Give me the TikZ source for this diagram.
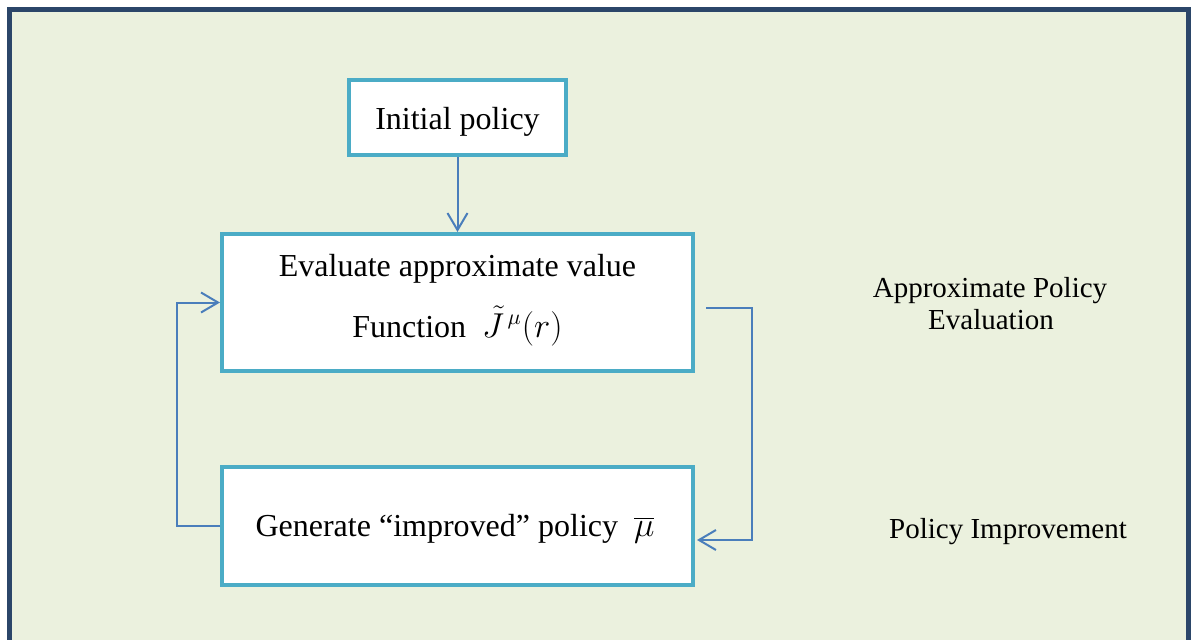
\documentclass[tikz,border=0pt]{standalone}
\usepackage{fontspec}
\setmainfont{Liberation Serif}
\usetikzlibrary{arrows.meta}
\definecolor{panel}{HTML}{EBF1DE}
\definecolor{framecol}{HTML}{2B4669}
\definecolor{boxline}{HTML}{4BACC6}
\definecolor{flow}{HTML}{4A7EBB}

\begin{document}
\begin{tikzpicture}[x=0.5pt,y=-0.5pt,
  stepbox/.style={draw=boxline, line width=2pt, fill=white, inner sep=0pt},
  boxtext/.style={font=\fontsize{16}{31}\selectfont, inner sep=0pt, anchor=base},
  sidetext/.style={font=\fontsize{14.5}{16.5}\selectfont, inner sep=0pt, anchor=base},
  flowline/.style={draw=flow, line width=1pt, -{Straight Barb[length=8.5pt,width=10pt,line width=1pt]}}]
\useasboundingbox (0,0) rectangle (1191,639);
\fill[white] (0,0) rectangle (1191,639);
% panel with dark frame
\draw[framecol, line width=2.5pt, fill=panel] (9.5,9.5) rectangle (1188.5,660);

% boxes
\node[stepbox, minimum width=108.5pt, minimum height=37.5pt] (init) at (457.5,117.5) {};
\node[stepbox, minimum width=235.5pt, minimum height=68.5pt] (eval) at (457.5,302.5) {};
\node[stepbox, minimum width=235.5pt, minimum height=59pt] (gen) at (457.5,526) {};

% box texts
\node[boxtext] (initT) at (457.5,129) {Initial policy};
\node[boxtext] (evalA) at (457.5,276) {Evaluate approximate value};
\node[boxtext] (evalB) at (457.5,337) {Function \ $\tilde{J}^{\,\mu}(r)$};
\node[boxtext] (genT) at (455,536) {Generate ``improved'' policy \ $\overline{\mu}$};

% side labels
\node[sidetext] (apeA) at (990,297) {Approximate Policy};
\node[sidetext] (apeB) at (991,329) {Evaluation};
\node[sidetext] (pi) at (1008,538) {Policy Improvement};

% connectors
\coordinate (turnR) at (752,400);
\coordinate (turnL) at (177,400);
\coordinate (outR) at ([xshift=5.5pt,yshift=-2.75pt]eval.east);
\coordinate (inR) at ([xshift=1pt,yshift=-7pt]gen.east);
\draw[flowline] (init.south) -- (eval.north);
\draw[flowline] (outR) -- (outR -| turnR) -- (turnR |- inR) -- (inR);
\draw[flowline] (gen.west) -- (gen.west -| turnL) -- (turnL |- eval.west) -- (eval.west);
\end{tikzpicture}
\end{document}
